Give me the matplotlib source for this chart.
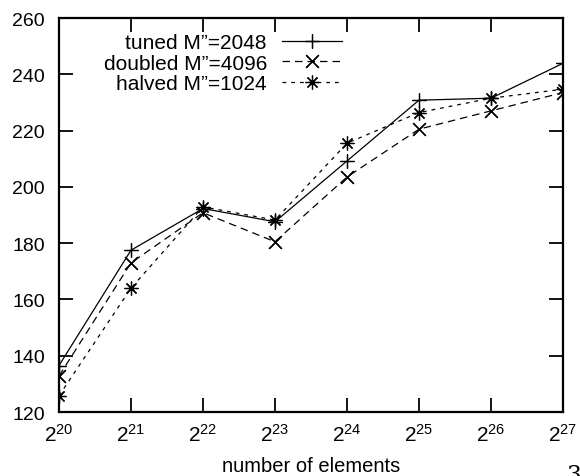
import numpy as np
import matplotlib
matplotlib.use('Agg')
import matplotlib.pyplot as plt

# data
exponents = [20, 21, 22, 23, 24, 25, 26, 27]
n_elements = [2 ** e for e in exponents]
tuned = [136.5, 177.5, 192.3, 187.6, 209.2, 230.8, 231.5, 243.9]
doubled = [132.8, 173.0, 190.8, 180.5, 203.5, 220.5, 227.0, 233.5]
halved = [125.8, 164.0, 192.9, 188.2, 215.5, 226.4, 231.5, 234.7]
labels = ['tuned M\u201d=2048', 'doubled M\u201d=4096', 'halved M\u201d=1024']
y_ticks = [120, 140, 160, 180, 200, 220, 240, 260]

plt.rcParams['font.family'] = ['Liberation Sans', 'DejaVu Sans']
plt.rcParams['mathtext.fontset'] = 'custom'
plt.rcParams['mathtext.rm'] = 'Liberation Sans'
plt.rcParams['mathtext.it'] = 'Liberation Sans:italic'
plt.rcParams['font.size'] = 14

fig = plt.figure(figsize=(5.8, 4.77), dpi=100)
ax = fig.add_axes([59 / 580, 64 / 477, 504 / 580, 394 / 477])

# marker shapes like gnuplot: plus, cross, asterisk
plus = (4, 2, 0)
cross = (4, 2, 45)
star = (8, 2, 0)

ax.plot(n_elements, tuned, color='black', lw=0.9, ls='-',
        marker=plus, ms=9.5, mew=0.9, label=labels[0])
ax.plot(n_elements, doubled, color='black', lw=0.9, ls=(0, (6, 4)),
        marker=cross, ms=13, mew=0.9, label=labels[1])
ax.plot(n_elements, halved, color='black', lw=0.9, ls=(0, (3, 4)),
        marker=star, ms=10, mew=0.9, label=labels[2])

ax.set_xscale('log', base=2)
ax.set_xlim(n_elements[0], n_elements[-1])
ax.set_ylim(y_ticks[0], y_ticks[-1])
ax.set_xticks(n_elements)
ax.set_xticklabels([r'$\mathregular{2^{%d}}$' % e for e in exponents], fontsize=15)
ax.minorticks_off()
ax.set_yticks(y_ticks)
ax.tick_params(direction='in', length=10, width=1.3, top=True, right=True,
               labelsize=14, pad=10)
ax.tick_params(axis='x', pad=8, labelsize=15)
for s in ax.spines.values():
    s.set_linewidth(1.6)

ax.set_xlabel('number of elements', fontsize=14.5, labelpad=8)

leg = ax.legend(loc='upper right', bbox_to_anchor=(0.5615, 0.962),
                frameon=False, markerfirst=False, handlelength=2.9,
                handletextpad=0.7, borderpad=0, borderaxespad=0,
                labelspacing=0.08, fontsize=15)

fig.text(566 / 580, -6 / 477, '3', family='DejaVu Serif', fontsize=17,
         va='baseline', ha='left')

fig.savefig('out.png', dpi=100)
